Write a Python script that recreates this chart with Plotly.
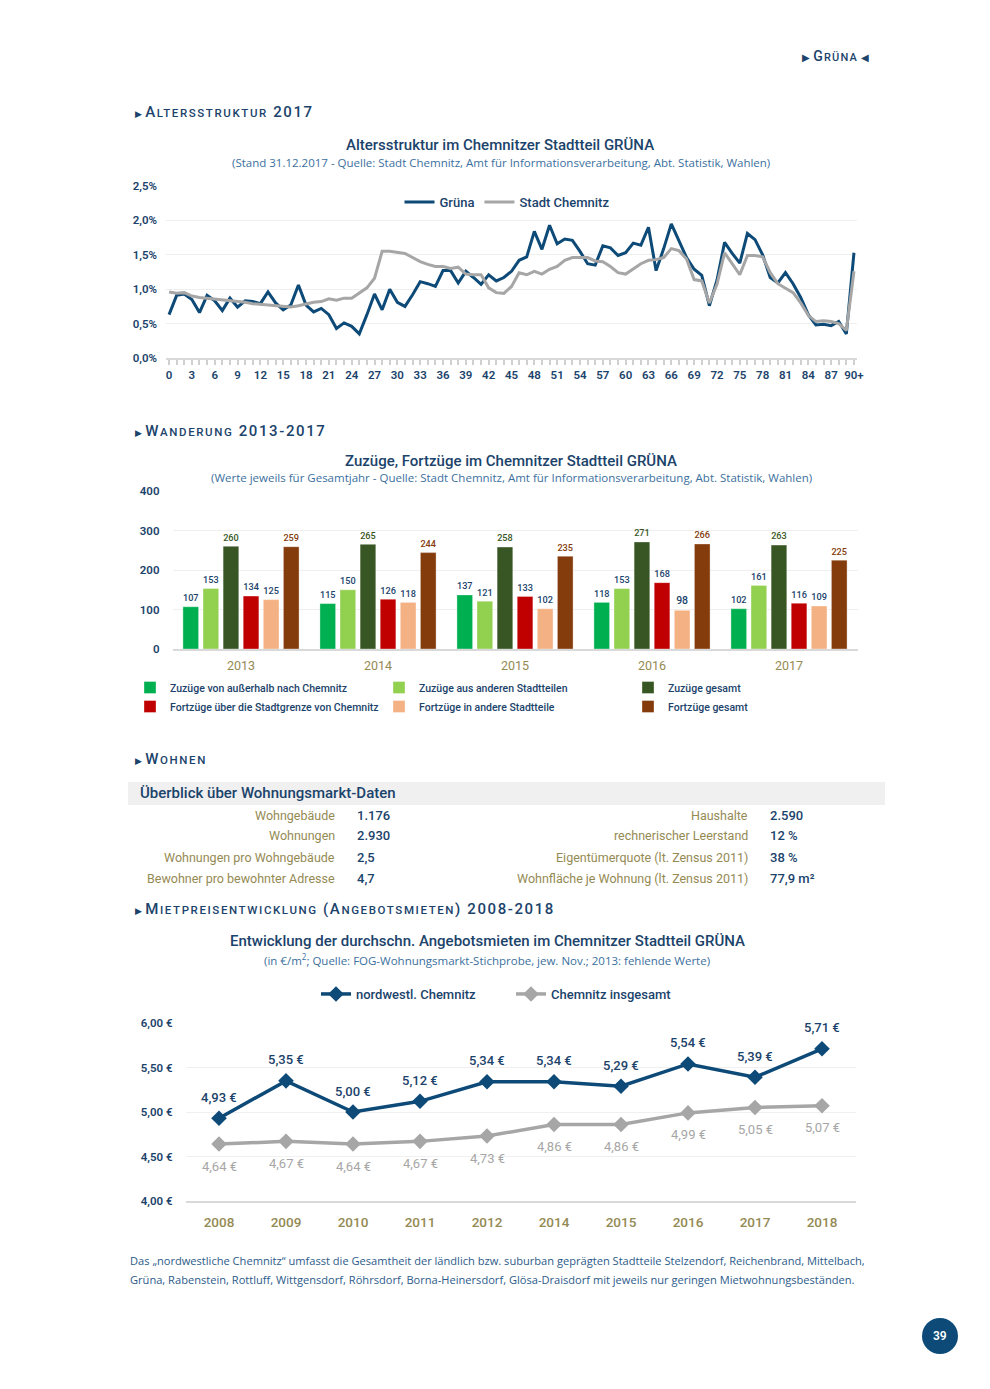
import plotly.graph_objects as go

W, H = 990, 1389
OFF = 8  # the page body adds an 8 px margin around the figure
def fx(x): return (x - OFF) / W
def fy(y): return 1 - (y - OFF) / H

DARK = "#0d4a77"
TEXT = "#1b436b"
OLIVE = "#948a54"
GREY = "#a6a6a6"
SUB = "#3b6f9e"
FONT = "Roboto"
FONT2 = "Open Sans"

# ---------------- data ----------------
ages = list(range(91))
age_tickvals = list(range(0, 91, 3))
age_ticktext = [str(a) for a in range(0, 90, 3)] + ["90+"]
gruena = [0.63, 0.91, 0.93, 0.85, 0.66, 0.91, 0.83, 0.69, 0.87, 0.74,
          0.83, 0.82, 0.79, 0.96, 0.80, 0.70, 0.77, 1.06, 0.77, 0.67,
          0.72, 0.63, 0.43, 0.51, 0.46, 0.35, 0.63, 0.93, 0.70, 1.00,
          0.81, 0.75, 0.92, 1.11, 1.08, 1.04, 1.27, 1.27, 1.09, 1.26,
          1.17, 1.07, 1.21, 1.12, 1.17, 1.26, 1.42, 1.47, 1.84, 1.58,
          1.93, 1.66, 1.73, 1.71, 1.55, 1.37, 1.35, 1.63, 1.60, 1.49,
          1.53, 1.67, 1.64, 1.90, 1.27, 1.59, 1.95, 1.70, 1.46, 1.29,
          1.20, 0.76, 1.13, 1.68, 1.52, 1.38, 1.81, 1.72, 1.50, 1.17,
          1.09, 1.24, 1.08, 0.88, 0.63, 0.48, 0.49, 0.47, 0.53, 0.35,
          1.53]
chemnitz = [0.96, 0.94, 0.95, 0.90, 0.88, 0.87, 0.86, 0.85, 0.83, 0.83,
            0.81, 0.79, 0.78, 0.76, 0.75, 0.74, 0.74, 0.76, 0.79, 0.81,
            0.82, 0.86, 0.84, 0.87, 0.87, 0.95, 1.02, 1.16, 1.55, 1.55,
            1.53, 1.52, 1.46, 1.40, 1.36, 1.33, 1.33, 1.30, 1.32, 1.22,
            1.21, 1.21, 1.02, 0.95, 0.94, 1.04, 1.24, 1.21, 1.26, 1.22,
            1.29, 1.33, 1.42, 1.46, 1.46, 1.46, 1.41, 1.40, 1.33, 1.24,
            1.22, 1.29, 1.37, 1.42, 1.43, 1.46, 1.59, 1.56, 1.44, 1.14,
            1.12, 0.80, 1.07, 1.53, 1.37, 1.21, 1.49, 1.49, 1.47, 1.24,
            1.08, 1.02, 0.95, 0.80, 0.62, 0.53, 0.54, 0.53, 0.50, 0.40,
            1.26]
age_yticks = [0, 0.5, 1.0, 1.5, 2.0, 2.5]
age_yticktext = ["0,0%", "0,5%", "1,0%", "1,5%", "2,0%", "2,5%"]

mig_years = ["2013", "2014", "2015", "2016", "2017"]
mig_names = ["Zuzüge von außerhalb nach Chemnitz", "Zuzüge aus anderen Stadtteilen",
             "Zuzüge gesamt", "Fortzüge über die Stadtgrenze von Chemnitz",
             "Fortzüge in andere Stadtteile", "Fortzüge gesamt"]
zuz_aussen = [107, 115, 137, 118, 102]
zuz_stadtteile = [153, 150, 121, 153, 161]
zuz_gesamt = [260, 265, 258, 271, 263]
fort_grenze = [134, 126, 133, 168, 116]
fort_stadtteile = [125, 118, 102, 98, 109]
fort_gesamt = [259, 244, 235, 266, 225]
mig_series = [zuz_aussen, zuz_stadtteile, zuz_gesamt, fort_grenze, fort_stadtteile, fort_gesamt]
mig_colors = ["#00b050", "#92d050", "#375623", "#c00000", "#f4b183", "#843c0c"]
mig_text_colors = [TEXT, TEXT, "#375623", TEXT, TEXT, "#843c0c"]

rent_years = ["2008", "2009", "2010", "2011", "2012", "2014", "2015", "2016", "2017", "2018"]
rent_nw = [4.93, 5.35, 5.00, 5.12, 5.34, 5.34, 5.29, 5.54, 5.39, 5.71]
rent_all = [4.64, 4.67, 4.64, 4.67, 4.73, 4.86, 4.86, 4.99, 5.05, 5.07]
rent_yticks = [4.0, 4.5, 5.0, 5.5, 6.0]

wohn_left_labels = ["Wohngebäude", "Wohnungen", "Wohnungen pro Wohngebäude", "Bewohner pro bewohnter Adresse"]
wohn_left_values = ["1.176", "2.930", "2,5", "4,7"]
wohn_right_labels = ["Haushalte", "rechnerischer Leerstand", "Eigentümerquote (lt. Zensus 2011)",
                     "Wohnfläche je Wohnung (lt. Zensus 2011)"]
wohn_right_values = ["2.590", "12 %", "38 %", "77,9 m²"]

def euro(v):
    return f"{v:.2f} €".replace(".", ",")

def smallcaps(s, big=15, small=11.5, spacing=1.6):
    runs = []
    for ch in s:
        if ch.islower():
            size, c = small, ch.upper()
        else:
            size, c = big, ch
        if runs and runs[-1][0] == size:
            runs[-1][1] += c
        else:
            runs.append([size, c])
    return "".join(f"<span style='font-size:{sz}px;letter-spacing:{spacing}px'>{t}</span>" for sz, t in runs)

fig = go.Figure()

# ---------------- age chart ----------------
fig.add_trace(go.Scatter(x=ages, y=gruena, mode="lines", name="Grüna",
                         line=dict(color=DARK, width=3), xaxis="x", yaxis="y", legend="legend"))
fig.add_trace(go.Scatter(x=ages, y=chemnitz, mode="lines", name="Stadt Chemnitz",
                         line=dict(color=GREY, width=3), xaxis="x", yaxis="y", legend="legend"))

# ---------------- migration chart ----------------
for name, vals, col, tcol in zip(mig_names, mig_series, mig_colors, mig_text_colors):
    fig.add_trace(go.Bar(x=mig_years, y=vals, name=name,
                         marker=dict(color=col, line=dict(color="rgba(255,255,255,0.35)", width=1)),
                         text=vals, textposition="outside", cliponaxis=False,
                         textfont=dict(color=tcol, size=10.5, family=FONT, weight=500),
                         xaxis="x2", yaxis="y2", legend="legend2"))

# ---------------- rent chart ----------------
fig.add_trace(go.Scatter(x=rent_years, y=rent_nw, mode="lines+markers", name="nordwestl. Chemnitz",
                         line=dict(color=DARK, width=3.5), marker=dict(symbol="diamond", size=12, color=DARK),
                         xaxis="x3", yaxis="y3", legend="legend3", cliponaxis=False))
fig.add_trace(go.Scatter(x=rent_years, y=rent_all, mode="lines+markers", name="Chemnitz insgesamt",
                         line=dict(color=GREY, width=3.5), marker=dict(symbol="diamond", size=12, color=GREY),
                         xaxis="x3", yaxis="y3", legend="legend3", cliponaxis=False))

ann = []
# on a category axis, annotation x is the category's serial index
for i, v in enumerate(rent_nw):
    ann.append(dict(x=i, y=v, xref="x3", yref="y3", text=euro(v), showarrow=False, yshift=21,
                    xanchor="center", font=dict(size=13, color=TEXT, family=FONT, weight=500)))
for i, v in enumerate(rent_all):
    ann.append(dict(x=i, y=v, xref="x3", yref="y3", text=euro(v), showarrow=False, yshift=-22,
                    xanchor="center", font=dict(size=13, color=GREY, family=FONT)))

def ptext(x, y, text, size=13, color=TEXT, xanchor="center", family=FONT, weight=None):
    f = dict(size=size, color=color, family=family)
    if weight:
        f["weight"] = weight
    ann.append(dict(x=fx(x), y=fy(y), xref="paper", yref="paper", text=text, showarrow=False,
                    xanchor=xanchor, yanchor="middle", font=f))

# page header
ptext(835, 56, "<span style='font-size:10px'>▶</span> " + smallcaps("Grüna", 14, 11, 1.2) +
      " <span style='font-size:10px'>◀</span>", color=TEXT, weight=500)

# section headers
tri = "<span style='font-size:9px'>▶</span> "
ptext(133, 112, tri + smallcaps("Altersstruktur 2017"), xanchor="left", weight=500)
ptext(133, 431, tri + smallcaps("Wanderung 2013-2017"), xanchor="left", weight=500)
ptext(133, 759, tri + smallcaps("Wohnen"), xanchor="left", weight=500)
ptext(133, 909, tri + smallcaps("Mietpreisentwicklung (Angebotsmieten) 2008-2018"), xanchor="left", weight=500)

# chart titles
ptext(500, 145, "Altersstruktur im Chemnitzer Stadtteil GRÜNA", size=15, weight=500)
ptext(501, 162, "(Stand 31.12.2017 - Quelle: Stadt Chemnitz, Amt für Informationsverarbeitung, Abt. Statistik, Wahlen)",
      size=11.5, color=SUB, family=FONT2)
ptext(511, 461, "Zuzüge, Fortzüge im Chemnitzer Stadtteil GRÜNA", size=15, weight=500)
ptext(511, 478, "(Werte jeweils für Gesamtjahr - Quelle: Stadt Chemnitz, Amt für Informationsverarbeitung, Abt. Statistik, Wahlen)",
      size=11.5, color=SUB, family=FONT2)
ptext(487, 941, "Entwicklung der durchschn. Angebotsmieten im Chemnitzer Stadtteil GRÜNA", size=15, weight=500)
ptext(487, 959, "(in €/m<sup>2</sup>; Quelle: FOG-Wohnungsmarkt-Stichprobe, jew. Nov.; 2013: fehlende Werte)",
      size=11.5, color=SUB, family=FONT2)

# Wohnen table
ptext(138, 793, "Überblick über Wohnungsmarkt-Daten", size=15, xanchor="left", weight=500)
row_y = [815, 836, 857, 878]
for yy, lab, val in zip(row_y, wohn_left_labels, wohn_left_values):
    ann.append(dict(x=fx(337), y=fy(yy), xref="paper", yref="paper", text=lab, showarrow=False,
                    xanchor="right", yanchor="middle", font=dict(size=12.5, color=OLIVE, family=FONT)))
    ann.append(dict(x=fx(355), y=fy(yy), xref="paper", yref="paper", text=val, showarrow=False,
                    xanchor="left", yanchor="middle", font=dict(size=13, color=TEXT, family=FONT, weight=500)))
for yy, lab, val in zip(row_y, wohn_right_labels, wohn_right_values):
    ann.append(dict(x=fx(750), y=fy(yy), xref="paper", yref="paper", text=lab, showarrow=False,
                    xanchor="right", yanchor="middle", font=dict(size=12.5, color=OLIVE, family=FONT)))
    ann.append(dict(x=fx(768), y=fy(yy), xref="paper", yref="paper", text=val, showarrow=False,
                    xanchor="left", yanchor="middle", font=dict(size=13, color=TEXT, family=FONT, weight=500)))

# footer
ptext(128, 1260, "Das „nordwestliche Chemnitz“ umfasst die Gesamtheit der ländlich bzw. suburban geprägten Stadtteile Stelzendorf, Reichenbrand, Mittelbach,",
      size=11.1, color="#2c5b8a", xanchor="left", family=FONT2)
ptext(128, 1279, "Grüna, Rabenstein, Rottluff, Wittgensdorf, Röhrsdorf, Borna-Heinersdorf, Glösa-Draisdorf mit jeweils nur geringen Mietwohnungsbeständen.",
      size=11.1, color="#2c5b8a", xanchor="left", family=FONT2)

# page number
ptext(940, 1336, "39", size=12, color="white", weight=600)

shapes = [
    dict(type="rect", xref="paper", yref="paper", x0=fx(128), x1=fx(885), y0=fy(805), y1=fy(782),
         fillcolor="#f0f0f0", line=dict(width=0), layer="below"),
    dict(type="circle", xref="paper", yref="paper", x0=fx(922), x1=fx(958), y0=fy(1354), y1=fy(1318),
         fillcolor=DARK, line=dict(width=0), layer="below"),
]

tickfont_b = dict(size=11.5, color=TEXT, family=FONT, weight=600)

fig.update_layout(
    width=W, height=H, margin=dict(l=0, r=0, t=0, b=0, autoexpand=False),
    paper_bgcolor="white", plot_bgcolor="white",
    font=dict(family=FONT, color=TEXT),
    barmode="group", bargap=0.12, bargroupgap=0.22,
    annotations=ann, shapes=shapes,
    xaxis=dict(domain=[fx(166), fx(857)], range=[-0.4, 90.4], tickmode="array",
               tickvals=age_tickvals, ticktext=age_ticktext, ticks="outside", ticklen=5,
               tickcolor="#d0d0d0", tickwidth=1.5, showline=True, linecolor="#d9d9d9", linewidth=2,
               minor=dict(dtick=1, tick0=0, ticks="outside", ticklen=5, tickcolor="#d0d0d0", tickwidth=1.5, showgrid=False),
               showgrid=False, zeroline=False, tickfont=tickfont_b, anchor="y", fixedrange=True, automargin=False),
    yaxis=dict(domain=[fy(358), fy(186)], range=[0, 2.5], tickmode="array", tickvals=age_yticks,
               ticktext=age_yticktext, gridcolor="#efefef", zeroline=False, showline=False,
               tickfont=tickfont_b, ticklabelstandoff=8, anchor="x", fixedrange=True, automargin=False),
    xaxis2=dict(domain=[fx(172.5), fx(857.5)], type="category", showline=True, linecolor="#d9d9d9",
                linewidth=2, ticks="", tickfont=dict(size=12.5, color=OLIVE, family=FONT),
                ticklabelstandoff=4, showgrid=False, anchor="y2", fixedrange=True, automargin=False),
    yaxis2=dict(domain=[fy(649), fy(491)], range=[0, 400], dtick=100, gridcolor="#efefef",
                zeroline=False, showline=False, tickfont=tickfont_b, ticklabelstandoff=12,
                anchor="x2", fixedrange=True, automargin=False),
    xaxis3=dict(domain=[fx(185.5), fx(855.5)], type="category", range=[-0.5, 9.5], showline=True,
                linecolor="#d9d9d9", linewidth=2, ticks="",
                tickfont=dict(size=13.5, color=OLIVE, family=FONT, weight=500),
                ticklabelstandoff=8, showgrid=False, anchor="y3", fixedrange=True, automargin=False),
    yaxis3=dict(domain=[fy(1201), fy(1023)], range=[4, 6], tickmode="array", tickvals=rent_yticks,
                ticktext=[euro(v) for v in rent_yticks], gridcolor="#f0f0f0", zeroline=False,
                showline=False, tickfont=tickfont_b, ticklabelstandoff=12, anchor="x3", fixedrange=True,
                automargin=False),
    legend=dict(x=fx(507), xanchor="center", y=fy(202), yanchor="middle", orientation="h",
                font=dict(size=13, color=TEXT, family=FONT, weight=500), bgcolor="rgba(0,0,0,0)"),
    legend2=dict(x=fx(130), xanchor="left", y=fy(697), yanchor="middle", orientation="h",
                 entrywidth=204, entrywidthmode="pixels", tracegroupgap=0,
                 font=dict(size=10.5, color=TEXT, family=FONT, weight=500), bgcolor="rgba(0,0,0,0)"),
    legend3=dict(x=fx(316), xanchor="left", y=fy(994), yanchor="middle", orientation="h",
                 entrywidth=150, entrywidthmode="pixels",
                 font=dict(size=13, color=TEXT, family=FONT, weight=500), bgcolor="rgba(0,0,0,0)"),
)

fig.write_html("out.html")
